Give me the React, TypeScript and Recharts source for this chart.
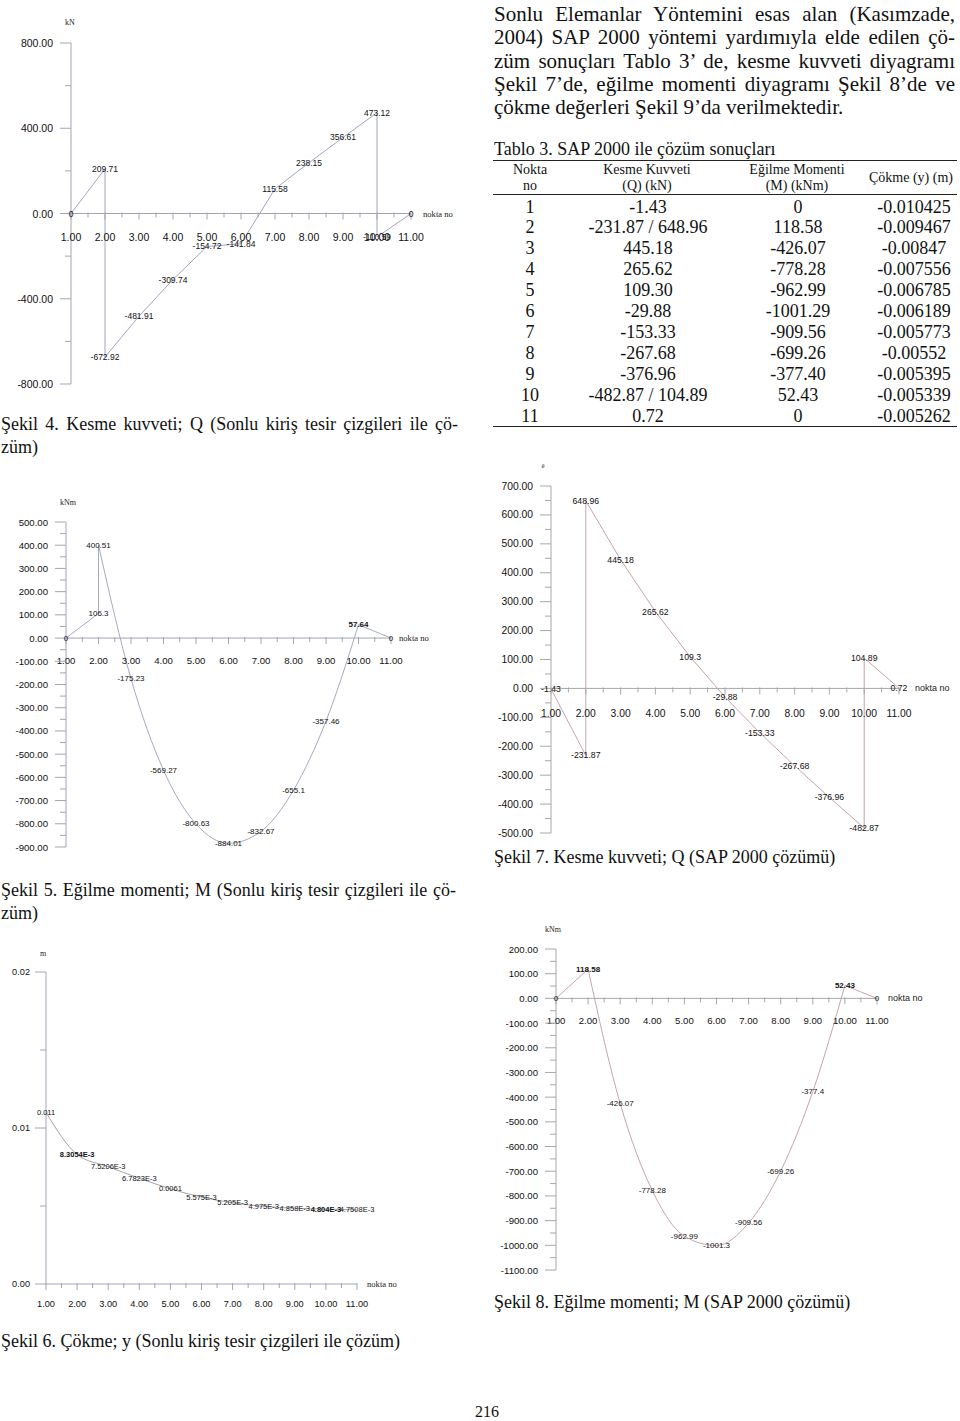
import React from 'react';
import { LineChart, Line, XAxis, YAxis, ReferenceLine, LabelList } from 'recharts';

const SANS = '"Liberation Sans", Arial, sans-serif';
const SERIF = '"Liberation Serif", "Times New Roman", serif';

// ---------- shared axis ticks ----------
const X_TICKS = [1, 1.5, 2, 2.5, 3, 3.5, 4, 4.5, 5, 5.5, 6, 6.5, 7, 7.5, 8, 8.5, 9, 9.5, 10, 10.5, 11];

// ---------- Şekil 4: Kesme kuvveti (sonlu kiriş) ----------
const S4_X = [1, 2, 2, 3, 4, 5, 6, 7, 8, 9, 10, 10, 11];
const S4_Y = [0, 209.71, -672.92, -481.91, -309.74, -154.72, -141.84, 115.58, 238.15, 356.61, 473.12, -110.59, 0];
const S4_T = ['0', '209.71', '-672.92', '-481.91', '-309.74', '-154.72', '-141.84', '115.58', '238.15', '356.61', '473.12', '-110.59', '0'];
const S4_Y_MAJOR = [800, 400, 0, -400, -800];
const S4_Y_MINOR = [600, 200, -200, -600];

// ---------- Şekil 5: Eğilme momenti (sonlu kiriş) ----------
const S5_X = [1, 2, 2, 3, 4, 5, 6, 7, 8, 9, 10, 11];
const S5_Y = [0, 106.3, 400.51, -175.23, -569.27, -800.63, -884.01, -832.67, -655.1, -357.46, 57.64, 0];
const S5_T = ['0', '106.3', '400.51', '-175.23', '-569.27', '-800.63', '-884.01', '-832.67', '-655.1', '-357.46', '57.64', '0'];
const S5_Y_MAJOR = [500, 400, 300, 200, 100, 0, -100, -200, -300, -400, -500, -600, -700, -800, -900];
const S5_Y_MINOR = [450, 350, 250, 150, 50, -50, -150, -250, -350, -450, -550, -650, -750, -850];

// ---------- Şekil 6: Çökme (sonlu kiriş) ----------
const S6_X = [1, 2, 3, 4, 5, 6, 7, 8, 9, 10, 11];
const S6_Y = [0.011, 0.0083054, 0.0075206, 0.0067823, 0.0061, 0.005575, 0.005205, 0.004975, 0.004858, 0.004804, 0.0047508];
const S6_T = ['0.011', '8.3054E-3', '7.5206E-3', '6.7823E-3', '0.0061', '5.575E-3', '5.205E-3', '4.975E-3', '4.858E-3', '4.804E-3', '4.7508E-3'];
const S6_Y_MAJOR = [0.02, 0.01, 0];
const S6_Y_MINOR = [0.015, 0.005];

// ---------- Şekil 7: Kesme kuvveti (SAP 2000) ----------
const S7_X = [1, 2, 2, 3, 4, 5, 6, 7, 8, 9, 10, 10, 11];
const S7_Y = [-1.43, -231.87, 648.96, 445.18, 265.62, 109.3, -29.88, -153.33, -267.68, -376.96, -482.87, 104.89, 0.72];
const S7_T = ['-1.43', '-231.87', '648.96', '445.18', '265.62', '109.3', '-29.88', '-153.33', '-267.68', '-376.96', '-482.87', '104.89', '0.72'];
const S7_Y_MAJOR = [700, 600, 500, 400, 300, 200, 100, 0, -100, -200, -300, -400, -500];
const S7_Y_MINOR = [650, 550, 450, 350, 250, 150, 50, -50, -150, -250, -350, -450];

// ---------- Şekil 8: Eğilme momenti (SAP 2000) ----------
const S8_X = [1, 2, 3, 4, 5, 6, 7, 8, 9, 10, 11];
const S8_Y = [0, 118.58, -426.07, -778.28, -962.99, -1001.3, -909.56, -699.26, -377.4, 52.43, 0];
const S8_T = ['0', '118.58', '-426.07', '-778.28', '-962.99', '-1001.3', '-909.56', '-699.26', '-377.4', '52.43', '0'];
const S8_Y_MAJOR = [200, 100, 0, -100, -200, -300, -400, -500, -600, -700, -800, -900, -1000, -1100];
const S8_Y_MINOR = [150, 50, -50, -150, -250, -350, -450, -550, -650, -750, -850, -950, -1050];

// ---------- Tablo 3 ----------
const TABLE_NOKTA = ['1', '2', '3', '4', '5', '6', '7', '8', '9', '10', '11'];
const TABLE_Q = ['-1.43', '-231.87 / 648.96', '445.18', '265.62', '109.30', '-29.88', '-153.33', '-267.68', '-376.96', '-482.87 / 104.89', '0.72'];
const TABLE_M = ['0', '118.58', '-426.07', '-778.28', '-962.99', '-1001.29', '-909.56', '-699.26', '-377.40', '52.43', '0'];
const TABLE_Y = ['-0.010425', '-0.009467', '-0.00847', '-0.007556', '-0.006785', '-0.006189', '-0.005773', '-0.00552', '-0.005395', '-0.005339', '-0.005262'];

// ---------- text ----------
const PARA_LINES = [
  'Sonlu Elemanlar Yöntemini esas alan (Kasımzade,',
  '2004) SAP 2000 yöntemi yardımıyla elde edilen çö-',
  'züm sonuçları Tablo 3’ de, kesme kuvveti diyagramı',
  'Şekil 7’de, eğilme momenti diyagramı Şekil 8’de ve',
  'çökme değerleri Şekil 9’da verilmektedir.',
];

type Seg = { from: number; to: number; curve: 'linear' | 'monotone' };
type Spec = {
  box: [number, number, number, number];
  plot: [number, number, number, number];
  yDomain: [number, number];
  yMajor: number[];
  yMinor: number[];
  xs: number[];
  ys: number[];
  labels: string[];
  segs: Seg[];
  lineColor: string;
  axisColor: string;
  tickSize: number;
  labelSize: number;
  bold: number[];
  xLabelDy: number;
  yLabelGap: number;
  noktaGap: number;
  noktaSize: number;
  noktaFamily: string;
};

const SPECS: Spec[] = [
  {
    box: [0, 0, 470, 410], plot: [71, 411, 43, 384], yDomain: [-800, 800],
    yMajor: S4_Y_MAJOR, yMinor: S4_Y_MINOR, xs: S4_X, ys: S4_Y, labels: S4_T,
    segs: [{ from: 0, to: 12, curve: 'linear' }],
    lineColor: '#a3a3c8', axisColor: '#a4a4b4', tickSize: 10.5, labelSize: 8.5, bold: [],
    xLabelDy: 23, yLabelGap: 18, noktaGap: 12, noktaSize: 8.6, noktaFamily: SERIF,
  },
  {
    box: [0, 490, 470, 380], plot: [66, 391, 522, 847], yDomain: [-900, 500],
    yMajor: S5_Y_MAJOR, yMinor: S5_Y_MINOR, xs: S5_X, ys: S5_Y, labels: S5_T,
    segs: [
      { from: 0, to: 2, curve: 'linear' },
      { from: 2, to: 10, curve: 'monotone' },
      { from: 10, to: 11, curve: 'linear' },
    ],
    lineColor: '#a8a8c2', axisColor: '#a4a4b4', tickSize: 9.6, labelSize: 8, bold: [10],
    xLabelDy: 22, yLabelGap: 18, noktaGap: 8, noktaSize: 8.6, noktaFamily: SERIF,
  },
  {
    box: [0, 940, 470, 390], plot: [46, 357, 972, 1284], yDomain: [0, 0.02],
    yMajor: S6_Y_MAJOR, yMinor: S6_Y_MINOR, xs: S6_X, ys: S6_Y, labels: S6_T,
    segs: [{ from: 0, to: 10, curve: 'monotone' }],
    lineColor: '#a4a4ae', axisColor: '#a4a4b4', tickSize: 9.2, labelSize: 7.5, bold: [1, 9],
    xLabelDy: 20, yLabelGap: 16, noktaGap: 10, noktaSize: 8.6, noktaFamily: SERIF,
  },
  {
    box: [490, 455, 470, 395], plot: [551, 899, 486, 833], yDomain: [-500, 700],
    yMajor: S7_Y_MAJOR, yMinor: S7_Y_MINOR, xs: S7_X, ys: S7_Y, labels: S7_T,
    segs: [{ from: 0, to: 12, curve: 'linear' }],
    lineColor: '#c9a3ab', axisColor: '#a8a8a8', tickSize: 10.3, labelSize: 8.7, bold: [],
    xLabelDy: 25, yLabelGap: 18, noktaGap: 16, noktaSize: 9, noktaFamily: SANS,
  },
  {
    box: [490, 915, 470, 370], plot: [556, 877, 949, 1270], yDomain: [-1100, 200],
    yMajor: S8_Y_MAJOR, yMinor: S8_Y_MINOR, xs: S8_X, ys: S8_Y, labels: S8_T,
    segs: [
      { from: 0, to: 1, curve: 'linear' },
      { from: 1, to: 9, curve: 'monotone' },
      { from: 9, to: 10, curve: 'linear' },
    ],
    lineColor: '#c9a3ab', axisColor: '#a8a8a8', tickSize: 9.6, labelSize: 8, bold: [1, 9],
    xLabelDy: 22, yLabelGap: 18, noktaGap: 11, noktaSize: 9, noktaFamily: SANS,
  },
];

function NoktaLabel(props: any) {
  const vb = props.viewBox || {};
  const x = (vb.x || 0) + (vb.width || 0) + props.gap;
  const y = (vb.y || 0) + (vb.height || 0) / 2;
  return (
    <text x={x} y={y} dominantBaseline="central" fontFamily={props.family} fontSize={props.size} fill="#222">
      nokta no
    </text>
  );
}

const AXIS_W = 20;

function Diagram({ s }: { s: Spec }) {
  const [bl, bt, W, H] = s.box;
  const [pl, pr, pt, pb] = s.plot;
  const plotL = pl - bl;
  const plotT = pt - bt;
  const plotB = pb - bt;
  // YAxis occupies AXIS_W px to the left of the plot; XAxis occupies AXIS_W px below it
  const margin = { left: plotL - AXIS_W, top: plotT, right: bl + W - pr, bottom: H - plotB - AXIS_W };
  const [ymin, ymax] = s.yDomain;
  const plotH = pb - pt;
  const zeroY = plotT + (ymax / (ymax - ymin)) * plotH;
  const axisX = plotL;

  const rows = s.xs.map((x, i) => {
    const r: any = { x, p: s.ys[i], t: s.labels[i] };
    s.segs.forEach((seg, k) => {
      r['s' + k] = i >= seg.from && i <= seg.to ? s.ys[i] : null;
    });
    return r;
  });

  const yTicks = [...s.yMajor, ...s.yMinor].sort((a, b) => b - a);

  const XTick = (props: any) => {
    const x = props.x;
    const v = Number(props.payload && props.payload.value);
    const major = Math.abs(v - Math.round(v)) < 1e-9;
    return (
      <g>
        <line x1={x} x2={x} y1={zeroY - 1} y2={zeroY + (major ? 6 : 4)} stroke={s.axisColor} strokeWidth={1} />
        {major && (
          <text x={x} y={zeroY + s.xLabelDy} textAnchor="middle" dominantBaseline="central" fontFamily={SANS} fontSize={s.tickSize} fill="#111">
            {v.toFixed(2)}
          </text>
        )}
      </g>
    );
  };

  const YTick = (props: any) => {
    const y = props.y;
    const v = Number(props.payload && props.payload.value);
    const major = s.yMajor.some((m) => Math.abs(m - v) < 1e-12);
    return (
      <g>
        <line x1={axisX - (major ? 11 : 6)} x2={axisX} y1={y} y2={y} stroke={s.axisColor} strokeWidth={1} />
        {major && (
          <text x={axisX - s.yLabelGap} y={y} textAnchor="end" dominantBaseline="central" fontFamily={SANS} fontSize={s.tickSize} fill="#111">
            {v.toFixed(2)}
          </text>
        )}
      </g>
    );
  };

  const renderPointLabel = (props: any) => {
    const vb = props.viewBox;
    const x = vb && vb.x != null ? vb.x + (vb.width || 0) / 2 : props.x;
    const y = vb && vb.y != null ? vb.y + (vb.height || 0) / 2 : props.y;
    if (x == null || y == null || props.value == null) return null;
    const bold = s.bold.includes(props.index);
    return (
      <text x={x} y={y} textAnchor="middle" dominantBaseline="central" fontFamily={SANS} fontSize={s.labelSize} fontWeight={bold ? 700 : 400} fill="#111">
        {props.value}
      </text>
    );
  };

  return (
    <div style={{ position: 'absolute', left: bl, top: bt, width: W, height: H }}>
      <LineChart width={W} height={H} data={rows} margin={margin}>
        <XAxis
          type="number"
          dataKey="x"
          domain={[1, 11]}
          ticks={X_TICKS}
          interval={0}
          height={AXIS_W}
          axisLine={false}
          tickLine={false}
          tick={<XTick />}
          allowDataOverflow
        />
        <YAxis
          type="number"
          domain={s.yDomain}
          ticks={yTicks}
          interval={0}
          width={AXIS_W}
          axisLine={false}
          tickLine={false}
          tick={<YTick />}
          allowDataOverflow
        />
        <ReferenceLine x={1} stroke={s.axisColor} strokeWidth={1} />
        <ReferenceLine
          y={0}
          stroke={s.axisColor}
          strokeWidth={1}
          label={<NoktaLabel gap={s.noktaGap} size={s.noktaSize} family={s.noktaFamily} />}
        />
        {s.segs.map((seg, k) => (
          <Line
            key={k}
            dataKey={'s' + k}
            type={seg.curve}
            stroke={s.lineColor}
            strokeWidth={1}
            dot={false}
            activeDot={false}
            connectNulls={false}
            isAnimationActive={false}
          />
        ))}
        <Line dataKey="p" type="linear" stroke="none" dot={false} activeDot={false} isAnimationActive={false}>
          <LabelList dataKey="t" content={renderPointLabel} />
        </Line>
      </LineChart>
    </div>
  );
}

const abs = (left: number, top: number, extra: React.CSSProperties = {}): React.CSSProperties => ({
  position: 'absolute',
  left,
  top,
  ...extra,
});

function Unit({ x, y, text, size = 8 }: { x: number; y: number; text: string; size?: number }) {
  return (
    <div style={abs(x, y, { transform: 'translate(-50%, -50%)', fontFamily: SERIF, fontSize: size, color: '#222', whiteSpace: 'nowrap', lineHeight: 1 })}>
      {text}
    </div>
  );
}

function Caption({ left, top, width, lines, size = 18 }: { left: number; top: number; width: number; lines: string[]; size?: number }) {
  return (
    <>
      {lines.map((ln, i) => (
        <div
          key={i}
          style={abs(left, top + i * 23.3, {
            width,
            fontFamily: SERIF,
            fontSize: size,
            lineHeight: '23.3px',
            color: '#111',
            textAlign: 'justify',
            textAlignLast: i < lines.length - 1 ? 'justify' : 'left',
          } as React.CSSProperties)}
        >
          {ln}
        </div>
      ))}
    </>
  );
}

function Table() {
  const rowTop = 196.5;
  const rowH = 20.9;
  const cell = (cx: number, top: number, text: string, size: number) => (
    <div style={abs(cx - 80, top, { width: 160, textAlign: 'center', fontFamily: SERIF, fontSize: size, lineHeight: size === 18 ? `${rowH}px` : '16px', color: '#111', whiteSpace: 'nowrap' })}>
      {text}
    </div>
  );
  return (
    <>
      <div style={abs(494, 139, { fontFamily: SERIF, fontSize: 18, lineHeight: '20px', color: '#111', whiteSpace: 'nowrap' })}>
        Tablo 3. SAP 2000 ile çözüm sonuçları
      </div>
      <div style={abs(493, 160, { width: 464, height: 0, borderTop: '1.6px solid #222' })} />
      <div style={abs(493, 194, { width: 464, height: 0, borderTop: '1px solid #222' })} />
      <div style={abs(493, 425.5, { width: 464, height: 0, borderTop: '1.6px solid #222' })} />
      {cell(530, 162, 'Nokta', 14)}
      {cell(530, 178, 'no', 14)}
      {cell(647, 162, 'Kesme Kuvveti', 14)}
      {cell(647, 178, '(Q) (kN)', 14)}
      {cell(797, 162, 'Eğilme Momenti', 14)}
      {cell(797, 178, '(M) (kNm)', 14)}
      {cell(911, 170, 'Çökme (y) (m)', 14)}
      {TABLE_NOKTA.map((n, i) => (
        <React.Fragment key={i}>
          {cell(530, rowTop + i * rowH, n, 18)}
          {cell(648, rowTop + i * rowH, TABLE_Q[i], 18)}
          {cell(798, rowTop + i * rowH, TABLE_M[i], 18)}
          {cell(914, rowTop + i * rowH, TABLE_Y[i], 18)}
        </React.Fragment>
      ))}
    </>
  );
}

export default function App() {
  return (
    <div style={{ position: 'absolute', left: 0, top: 0, width: 960, height: 1421, background: '#fff', overflow: 'hidden' }}>
      {PARA_LINES.map((ln, i) => (
        <div
          key={i}
          style={abs(494, 3 + i * 23.3, {
            width: 461,
            fontFamily: SERIF,
            fontSize: 21,
            lineHeight: '23.3px',
            color: '#111',
            textAlign: 'justify',
            textAlignLast: i < PARA_LINES.length - 1 ? 'justify' : 'left',
          } as React.CSSProperties)}
        >
          {ln}
        </div>
      ))}

      <Table />

      {SPECS.map((s, i) => (
        <Diagram key={i} s={s} />
      ))}

      <Unit x={70} y={23} text="kN" />
      <Unit x={68} y={503} text="kNm" />
      <Unit x={43} y={954} text="m" />
      <Unit x={543} y={466} text="ë" size={7} />
      <Unit x={553} y={930} text="kNm" />

      <Caption left={1} top={413} width={457} lines={['Şekil 4. Kesme kuvveti; Q (Sonlu kiriş tesir çizgileri ile çö-', 'züm)']} />
      <Caption left={1} top={879} width={455} lines={['Şekil 5. Eğilme momenti; M (Sonlu kiriş tesir çizgileri ile çö-', 'züm)']} />
      <Caption left={1} top={1330} width={460} lines={['Şekil 6. Çökme; y (Sonlu kiriş tesir çizgileri ile çözüm)']} />
      <Caption left={494} top={846} width={460} lines={['Şekil 7. Kesme kuvveti; Q (SAP 2000 çözümü)']} />
      <Caption left={494} top={1291} width={460} lines={['Şekil 8. Eğilme momenti; M (SAP 2000 çözümü)']} />

      <div style={abs(487, 1412, { transform: 'translate(-50%, -50%)', fontFamily: SERIF, fontSize: 16, color: '#111', lineHeight: 1 })}>216</div>
    </div>
  );
}
